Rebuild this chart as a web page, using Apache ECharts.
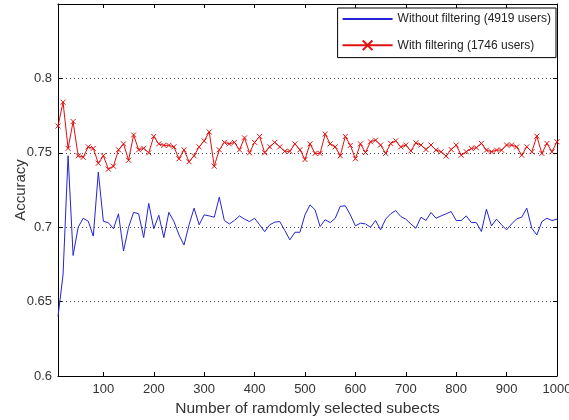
<!DOCTYPE html>
<html>
<head>
<meta charset="utf-8">
<script src="https://cdn.jsdelivr.net/npm/echarts@6/dist/echarts.min.js"></script>
<style>html,body{margin:0;padding:0;background:#fff}#c{width:569px;height:420px}</style>
</head>
<body>
<div id="c"></div>
<script>
const xValues = [10,20,30,40,50,60,70,80,90,100,110,120,130,140,150,160,170,180,190,200,210,220,230,240,250,260,270,280,290,300,310,320,330,340,350,360,370,380,390,400,410,420,430,440,450,460,470,480,490,500,510,520,530,540,550,560,570,580,590,600,610,620,630,640,650,660,670,680,690,700,710,720,730,740,750,760,770,780,790,800,810,820,830,840,850,860,870,880,890,900,910,920,930,940,950,960,970,980,990,1000];

const withoutFiltering = [0.640,0.668,0.748,0.681,0.700,0.706,0.704,0.694,0.737,0.704,0.703,0.699,0.709,0.684,0.700,0.710,0.709,0.693,0.716,0.699,0.708,0.693,0.710,
0.7038,0.6948,0.688,0.7016,0.7128,0.7016,0.7083,0.7076,0.7067,0.7202,0.7045,0.7022,0.7045,0.7076,0.7054,0.7038,0.706,0.7016,0.697,0.7016,0.7034,0.7038,0.6978,0.6915,0.6966,0.6966,0.7083,0.715,0.7117,0.7004,0.705,0.7031,0.706,0.714,0.7144,0.7083,0.7009,0.7027,0.7022,
0.700,0.7045,0.6982,0.7054,0.709,0.7112,0.7072,0.7054,0.7022,0.6993,0.7067,0.7045,0.7099,0.706,0.7076,0.709,0.7105,0.7045,0.7045,0.7076,0.7031,0.7031,0.6971,0.7121,0.7009,0.7054,0.7016,0.6982,0.7022,0.7056,0.7067,0.7128,0.6993,0.6948,0.7038,0.706,0.7045,0.7054];

const withFiltering = [0.768,0.784,0.753,0.771,0.748,0.747,0.754,0.753,0.743,0.748,0.739,0.741,0.752,0.756,0.745,0.762,0.752,0.753,0.750,0.761,0.756,0.755,0.755,
0.754,0.746,0.752,0.744,0.748,0.754,0.758,0.764,0.741,0.752,0.757,0.756,0.757,0.752,0.760,0.750,0.757,0.761,0.750,0.754,0.757,0.754,0.751,0.751,0.756,0.752,0.7455,0.756,0.7496,0.7496,0.7626,0.756,0.754,0.748,0.761,0.755,0.746,0.756,0.7502,
0.7574,0.7585,0.7552,0.7496,0.7563,0.7581,0.754,0.7552,0.7513,0.7567,0.7552,0.7522,0.7552,0.7518,0.7507,0.7478,0.7522,0.7552,0.7484,0.7507,0.7529,0.7534,0.7563,0.7518,0.7507,0.7518,0.7518,0.7552,0.7552,0.754,0.7484,0.754,0.7507,0.7612,0.7496,0.7563,0.7507,0.7574];

const xTicks = [100,200,300,400,500,600,700,800,900,1000];
const yTicks = [0.6,0.65,0.7,0.75,0.8];
const seriesNames = ['Without filtering (4919 users)','With filtering (1746 users)'];

const font = 'Liberation Sans, Arial, sans-serif';
const chart = echarts.init(document.getElementById('c'), null, {renderer:'canvas'});

const toPairs = ys => xValues.map((x,i)=>[x, ys[i]]);
const blue = '#2424d4', red = '#e01010';

chart.setOption({
  animation:false,
  backgroundColor:'#fff',
  grid:{left:58,right:12,top:4,bottom:44,containLabel:false,outerBoundsMode:'none'},
  legend:{
    show:true, orient:'vertical', right:13, top:8,
    data:[{name:seriesNames[0], itemStyle:{opacity:0}}, {name:seriesNames[1]}],
    backgroundColor:'#fff', borderColor:'#000', borderWidth:1,
    padding:[5,5,5,4], itemGap:13, itemWidth:50, itemHeight:12,
    textStyle:{fontFamily:font,fontSize:12,color:'#222'}
  },
  xAxis:[{
    type:'value', min:10, max:1000, position:'bottom',
    axisLine:{show:true,onZero:false,lineStyle:{color:'#000',width:1}},
    axisTick:{show:true,inside:true,length:4,customValues:xTicks,lineStyle:{color:'#000'}},
    axisLabel:{show:true,customValues:xTicks,fontFamily:font,fontSize:13,color:'#333',margin:7,
      formatter:v=>String(v)},
    splitLine:{show:false},
    name:'Number of ramdomly selected subects', nameLocation:'middle', nameGap:25,
    nameTextStyle:{fontFamily:font,fontSize:15.5,color:'#333'}
  },{
    type:'value', min:10, max:1000, position:'top',
    axisLine:{show:true,onZero:false,lineStyle:{color:'#000',width:1}},
    axisTick:{show:true,inside:true,length:4,customValues:xTicks,lineStyle:{color:'#000'}},
    axisLabel:{show:false}, splitLine:{show:false}
  }],
  yAxis:[{
    type:'value', min:0.6, max:0.85, interval:0.05, position:'left',
    axisLine:{show:true,onZero:false,lineStyle:{color:'#000',width:1}},
    axisTick:{show:true,inside:true,length:4,customValues:yTicks,lineStyle:{color:'#000'}},
    axisLabel:{show:true,customValues:yTicks,fontFamily:font,fontSize:13,color:'#333',margin:6,
      formatter:v=>String(+v.toFixed(2))},
    splitLine:{show:true,lineStyle:{color:'#444',width:1,type:[1,3]}},
    name:'Accuracy', nameLocation:'middle', nameGap:30, nameRotate:90, nameMoveOverlap:false,
    nameTextStyle:{fontFamily:font,fontSize:15,color:'#333'}
  },{
    type:'value', min:0.6, max:0.85, interval:0.05, position:'right',
    axisLine:{show:true,onZero:false,lineStyle:{color:'#000',width:1}},
    axisTick:{show:true,inside:true,length:4,customValues:yTicks,lineStyle:{color:'#000'}},
    axisLabel:{show:false}, splitLine:{show:false}
  }],
  series:[{
    name:seriesNames[0], type:'line', data:toPairs(withoutFiltering),
    symbol:'none', lineStyle:{color:blue,width:1}, itemStyle:{color:blue},
    z:3
  },{
    name:seriesNames[1], type:'line', data:toPairs(withFiltering),
    symbol:'path://M0,0L10,10M10,0L0,10', symbolSize:5, showSymbol:true, showAllSymbol:true,
    lineStyle:{color:red,width:1},
    itemStyle:{color:'none',borderColor:red,borderWidth:1},
    z:4
  }]
});
</script>
</body>
</html>
